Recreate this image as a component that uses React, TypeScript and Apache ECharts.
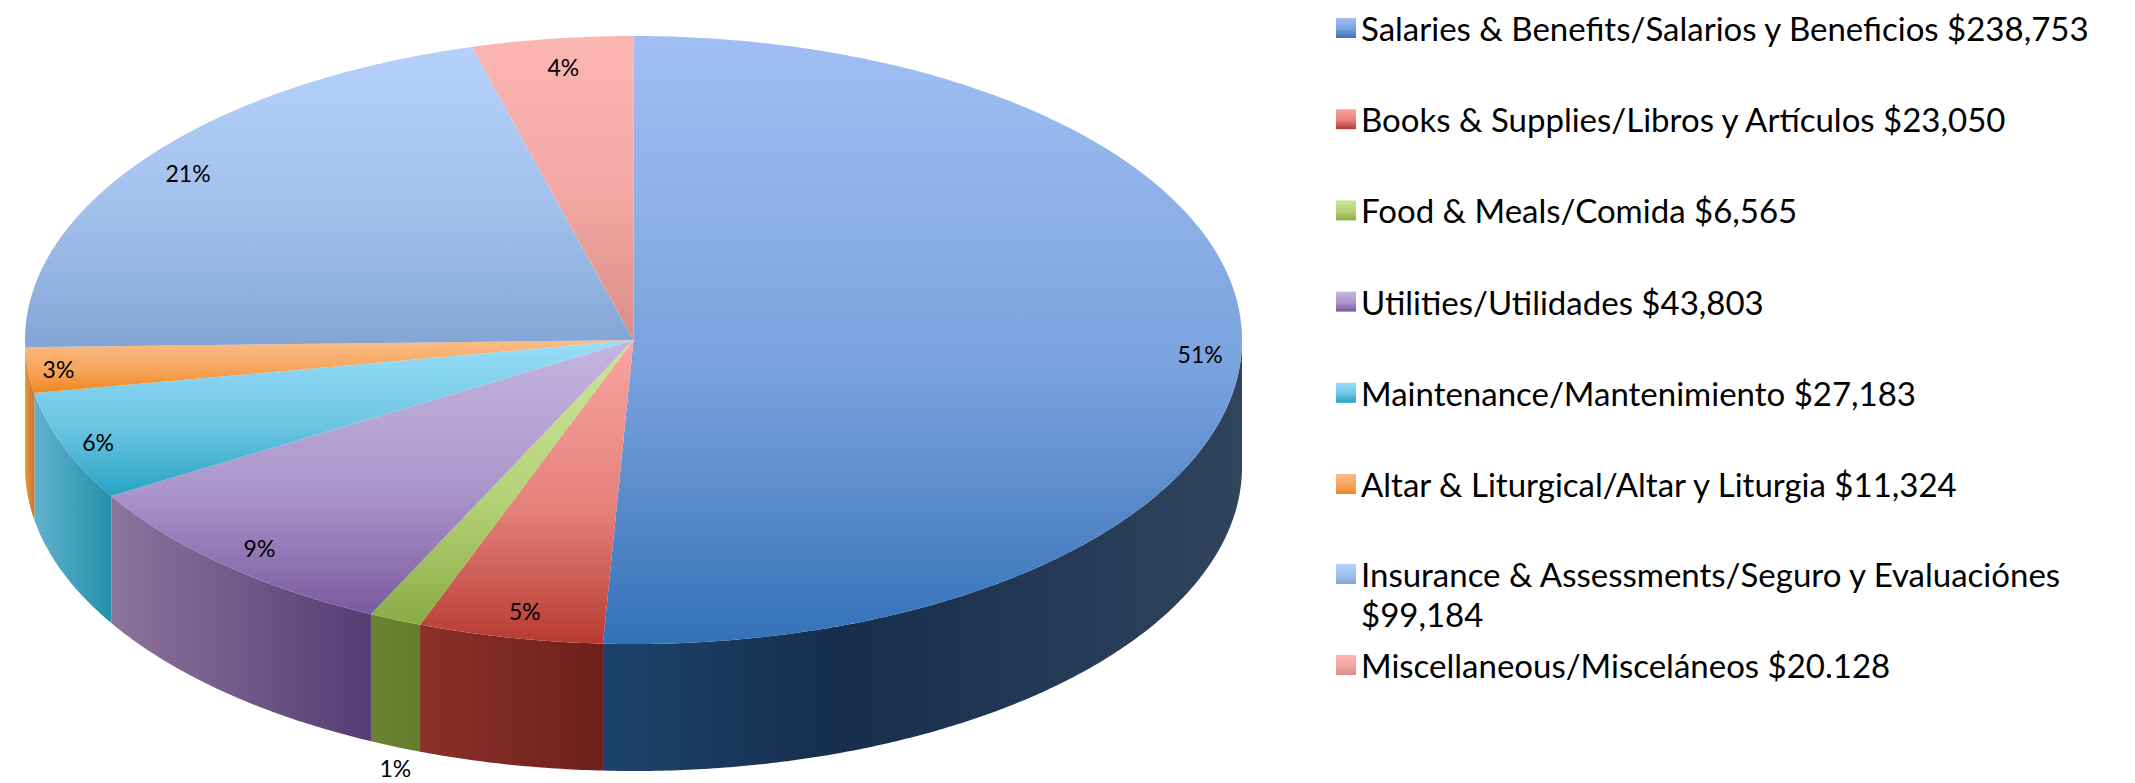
import React, { useEffect, useRef } from "react";
import * as echarts from "echarts";

const categories = [
  "Salaries & Benefits/Salarios y Beneficios $238,753",
  "Books & Supplies/Libros y Artículos $23,050",
  "Food & Meals/Comida $6,565",
  "Utilities/Utilidades $43,803",
  "Maintenance/Mantenimiento $27,183",
  "Altar & Liturgical/Altar y Liturgia $11,324",
  "Insurance & Assessments/Seguro y Evaluaciónes $99,184",
  "Miscellaneous/Misceláneos $20.128",
];
const values = [238753, 23050, 6565, 43803, 27183, 11324, 99184, 20128];
const percentLabels = ["51%", "5%", "1%", "9%", "6%", "3%", "21%", "4%"];
const topColors = [
  ["#a1bff3", "#7aa2dd", "#3371b8"],
  ["#f9a5a1", "#e5817b", "#b83b32"],
  ["#cbe797", "#b4d277", "#8bab45"],
  ["#c5b6e0", "#ab96cb", "#7a5a9f"],
  ["#99def9", "#6cc5e3", "#27a3c3"],
  ["#fabd88", "#f7a55c", "#ef8820"],
  ["#b5d1fb", "#a2c0ec", "#83a5d5"],
  ["#fcb6b2", "#f2a7a3", "#da8c88"],
];
const wallColors = [
  [[0, "#1c436b"], [0.37, "#162e4c"], [1, "#31445e"]],
  [[0, "#8b302b"], [1, "#6e1f1a"]],
  [[0, "#6b8331"], [1, "#647c2c"]],
  [[0, "#8d749c"], [1, "#553c74"]],
  [[0, "#62b2ce"], [1, "#2490aa"]],
  [[0, "#e8933f"], [1, "#c67a30"]],
  [[0, "#8aa6d0"], [1, "#7e9ac4"]],
  [[0, "#d08a86"], [1, "#c47e7a"]],
];

const CX = 633.5;
const CY = 340;
const RX = 608.5;
const RY = 304;
const DEPTH = 127;
const LABEL_R = 0.92;
const OUTSIDE_LABEL = 2;
const labelNudge = [
  [7, 7],
  [5, -3],
  [0, -6],
  [3, 1],
  [-11, 4],
  [-18, 1],
  [4, 0],
  [5, 4],
];

const total = values.reduce((a, b) => a + b, 0);
const starts: number[] = [];
values.reduce((acc, v, i) => {
  starts[i] = acc;
  return acc + (v / total) * 360;
}, 0);

const rim = (deg: number, dy = 0): [number, number] => {
  const r = (deg * Math.PI) / 180;
  return [CX + RX * Math.sin(r), CY - RY * Math.cos(r) + dy];
};

const arcPoints = (a: number, b: number, dy = 0) => {
  const n = Math.max(2, Math.ceil((b - a) / 0.5));
  const pts: [number, number][] = [];
  for (let i = 0; i <= n; i++) pts.push(rim(a + ((b - a) * i) / n, dy));
  return pts;
};

const gradientFor = (i: number) =>
  new echarts.graphic.LinearGradient(0, 0, 0, 1, [
    { offset: 0, color: topColors[i][0] },
    { offset: 0.55, color: topColors[i][1] },
    { offset: 1, color: topColors[i][2] },
  ]);

const makeRenderItem = (i: number) => (_params: any, api: any) => {
  const sweep = (api.value(0) / total) * 360;
  const a = starts[i];
  const b = a + sweep;
  const children: any[] = [];
  const wa = Math.max(a, 90);
  const wb = Math.min(b, 270);
  if (wb > wa) {
    const front = arcPoints(wa, wb);
    const back = arcPoints(wa, wb, DEPTH).reverse();
    children.push({
      type: "polygon",
      shape: { points: [...front, ...back] },
      style: {
        fill: new echarts.graphic.LinearGradient(
          0,
          0,
          1,
          0,
          wallColors[i].map((s) => ({ offset: s[0] as number, color: s[1] as string }))
        ),
      },
    });
  }
  children.push({
    type: "polygon",
    shape: { points: [[CX, CY], ...arcPoints(a, b)] },
    style: { fill: gradientFor(i) },
  });
  const mid = (a + b) / 2;
  const r = (mid * Math.PI) / 180;
  const outside = i === OUTSIDE_LABEL;
  const k = outside ? 1 : LABEL_R;
  children.push({
    type: "text",
    x: CX + RX * k * Math.sin(r) + labelNudge[i][0],
    y: CY - RY * k * Math.cos(r) + (outside ? DEPTH + 27 : 0) + labelNudge[i][1],
    style: {
      text: percentLabels[i],
      font: "23px Lato",
      fill: "#000",
      align: "center",
      verticalAlign: "middle",
    },
  });
  return { type: "group", children };
};

const legendBase = {
  orient: "vertical",
  left: 1331,
  icon: "rect",
  itemWidth: 20,
  itemHeight: 20,
  itemGap: 51.2,
  textStyle: {
    fontFamily: "Lato",
    fontSize: 33,
    lineHeight: 40,
    color: "#000",
    padding: [0, 0, 0, 0],
  },
  selectedMode: false,
};

const legendItem = (i: number) => ({
  name: categories[i],
  icon: "rect",
  itemStyle: { color: gradientFor(i) },
});

export default function App() {
  const ref = useRef<HTMLDivElement>(null);
  useEffect(() => {
    document.body.style.margin = "0";
    document.body.style.background = "#fff";
    const chart = echarts.init(ref.current!, null, { renderer: "svg" });
    chart.setOption({
      animation: false,
      backgroundColor: "#ffffff",
      legend: [
        { ...legendBase, top: 3, data: [0, 1, 2, 3, 4, 5].map(legendItem) },
        {
          ...legendBase,
          top: 509,
          data: [legendItem(6)],
          formatter: () => "\nInsurance & Assessments/Seguro y Evaluaciónes\n$99,184",
        },
        { ...legendBase, top: 640, data: [legendItem(7)] },
      ],
      series: categories.map((name, i) => ({
        type: "custom",
        name,
        coordinateSystem: "none",
        silent: true,
        clip: false,
        itemStyle: { color: topColors[i][0] },
        data: [[values[i]]],
        renderItem: makeRenderItem(i),
      })),
    });
    return () => chart.dispose();
  }, []);
  return <div ref={ref} style={{ position: "fixed", left: 0, top: 0, width: 2135, height: 783 }} />;
}
